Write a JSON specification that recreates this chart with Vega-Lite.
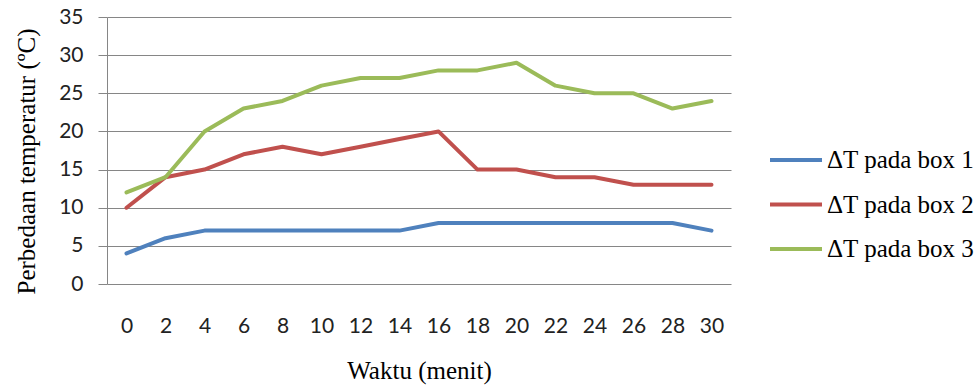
{
  "$schema": "https://vega.github.io/schema/vega-lite/v6.json",
  "width": 624,
  "height": 267,
  "autosize": {"type": "none"},
  "padding": {"left": 107, "top": 17, "right": 248, "bottom": 102},
  "background": "white",
  "config": {"view": {"stroke": null}},
  "data": {"values": [
    {"t": 0, "v": 4, "s": "ΔT pada box 1"}, {"t": 2, "v": 6, "s": "ΔT pada box 1"}, {"t": 4, "v": 7, "s": "ΔT pada box 1"}, {"t": 6, "v": 7, "s": "ΔT pada box 1"},
    {"t": 8, "v": 7, "s": "ΔT pada box 1"}, {"t": 10, "v": 7, "s": "ΔT pada box 1"}, {"t": 12, "v": 7, "s": "ΔT pada box 1"}, {"t": 14, "v": 7, "s": "ΔT pada box 1"},
    {"t": 16, "v": 8, "s": "ΔT pada box 1"}, {"t": 18, "v": 8, "s": "ΔT pada box 1"}, {"t": 20, "v": 8, "s": "ΔT pada box 1"}, {"t": 22, "v": 8, "s": "ΔT pada box 1"},
    {"t": 24, "v": 8, "s": "ΔT pada box 1"}, {"t": 26, "v": 8, "s": "ΔT pada box 1"}, {"t": 28, "v": 8, "s": "ΔT pada box 1"}, {"t": 30, "v": 7, "s": "ΔT pada box 1"},
    {"t": 0, "v": 10, "s": "ΔT pada box 2"}, {"t": 2, "v": 14, "s": "ΔT pada box 2"}, {"t": 4, "v": 15, "s": "ΔT pada box 2"}, {"t": 6, "v": 17, "s": "ΔT pada box 2"},
    {"t": 8, "v": 18, "s": "ΔT pada box 2"}, {"t": 10, "v": 17, "s": "ΔT pada box 2"}, {"t": 12, "v": 18, "s": "ΔT pada box 2"}, {"t": 14, "v": 19, "s": "ΔT pada box 2"},
    {"t": 16, "v": 20, "s": "ΔT pada box 2"}, {"t": 18, "v": 15, "s": "ΔT pada box 2"}, {"t": 20, "v": 15, "s": "ΔT pada box 2"}, {"t": 22, "v": 14, "s": "ΔT pada box 2"},
    {"t": 24, "v": 14, "s": "ΔT pada box 2"}, {"t": 26, "v": 13, "s": "ΔT pada box 2"}, {"t": 28, "v": 13, "s": "ΔT pada box 2"}, {"t": 30, "v": 13, "s": "ΔT pada box 2"},
    {"t": 0, "v": 12, "s": "ΔT pada box 3"}, {"t": 2, "v": 14, "s": "ΔT pada box 3"}, {"t": 4, "v": 20, "s": "ΔT pada box 3"}, {"t": 6, "v": 23, "s": "ΔT pada box 3"},
    {"t": 8, "v": 24, "s": "ΔT pada box 3"}, {"t": 10, "v": 26, "s": "ΔT pada box 3"}, {"t": 12, "v": 27, "s": "ΔT pada box 3"}, {"t": 14, "v": 27, "s": "ΔT pada box 3"},
    {"t": 16, "v": 28, "s": "ΔT pada box 3"}, {"t": 18, "v": 28, "s": "ΔT pada box 3"}, {"t": 20, "v": 29, "s": "ΔT pada box 3"}, {"t": 22, "v": 26, "s": "ΔT pada box 3"},
    {"t": 24, "v": 25, "s": "ΔT pada box 3"}, {"t": 26, "v": 25, "s": "ΔT pada box 3"}, {"t": 28, "v": 23, "s": "ΔT pada box 3"}, {"t": 30, "v": 24, "s": "ΔT pada box 3"}
  ]},
  "mark": {"type": "line", "strokeWidth": 4, "strokeCap": "round", "strokeJoin": "round"},
  "encoding": {
    "x": {
      "field": "t", "type": "ordinal", "sort": "ascending",
      "scale": {"type": "point", "padding": 0.5},
      "axis": {
        "title": "Waktu (menit)", "titleFont": "Liberation Serif", "titleFontSize": 25, "titleFontWeight": "normal", "titleColor": "black", "titlePadding": 22,
        "labelFont": "Lato", "labelFontSize": 21, "labelColor": "#222", "labelPadding": 31, "labelAngle": 0,
        "domain": false, "ticks": false, "grid": false
      }
    },
    "y": {
      "field": "v", "type": "quantitative",
      "scale": {"domain": [0, 35], "nice": false},
      "axis": {
        "title": "Perbedaan temperatur (ºC)", "titleFont": "Liberation Serif", "titleFontSize": 25, "titleFontWeight": "normal", "titleColor": "black",
        "titleX": -68, "titleY": 144,
        "values": [0, 5, 10, 15, 20, 25, 30, 35],
        "labelFont": "Lato", "labelFontSize": 21, "labelColor": "#222", "labelPadding": 15,
        "domain": true, "domainColor": "#868686", "domainWidth": 1,
        "ticks": true, "tickSize": 9, "tickColor": "#868686",
        "grid": true, "gridColor": "#868686", "gridWidth": 1
      }
    },
    "color": {
      "field": "s", "type": "nominal",
      "scale": {"range": ["#4F81BD", "#C0504D", "#9BBB59"]},
      "legend": {
        "title": null, "orient": "none", "legendX": 661, "legendY": 115,
        "symbolType": "stroke", "symbolSize": 2704, "symbolStrokeWidth": 4,
        "labelFont": "Liberation Serif", "labelFontSize": 25, "labelColor": "black", "labelOffset": 3,
        "rowPadding": 3.5
      }
    }
  }
}
